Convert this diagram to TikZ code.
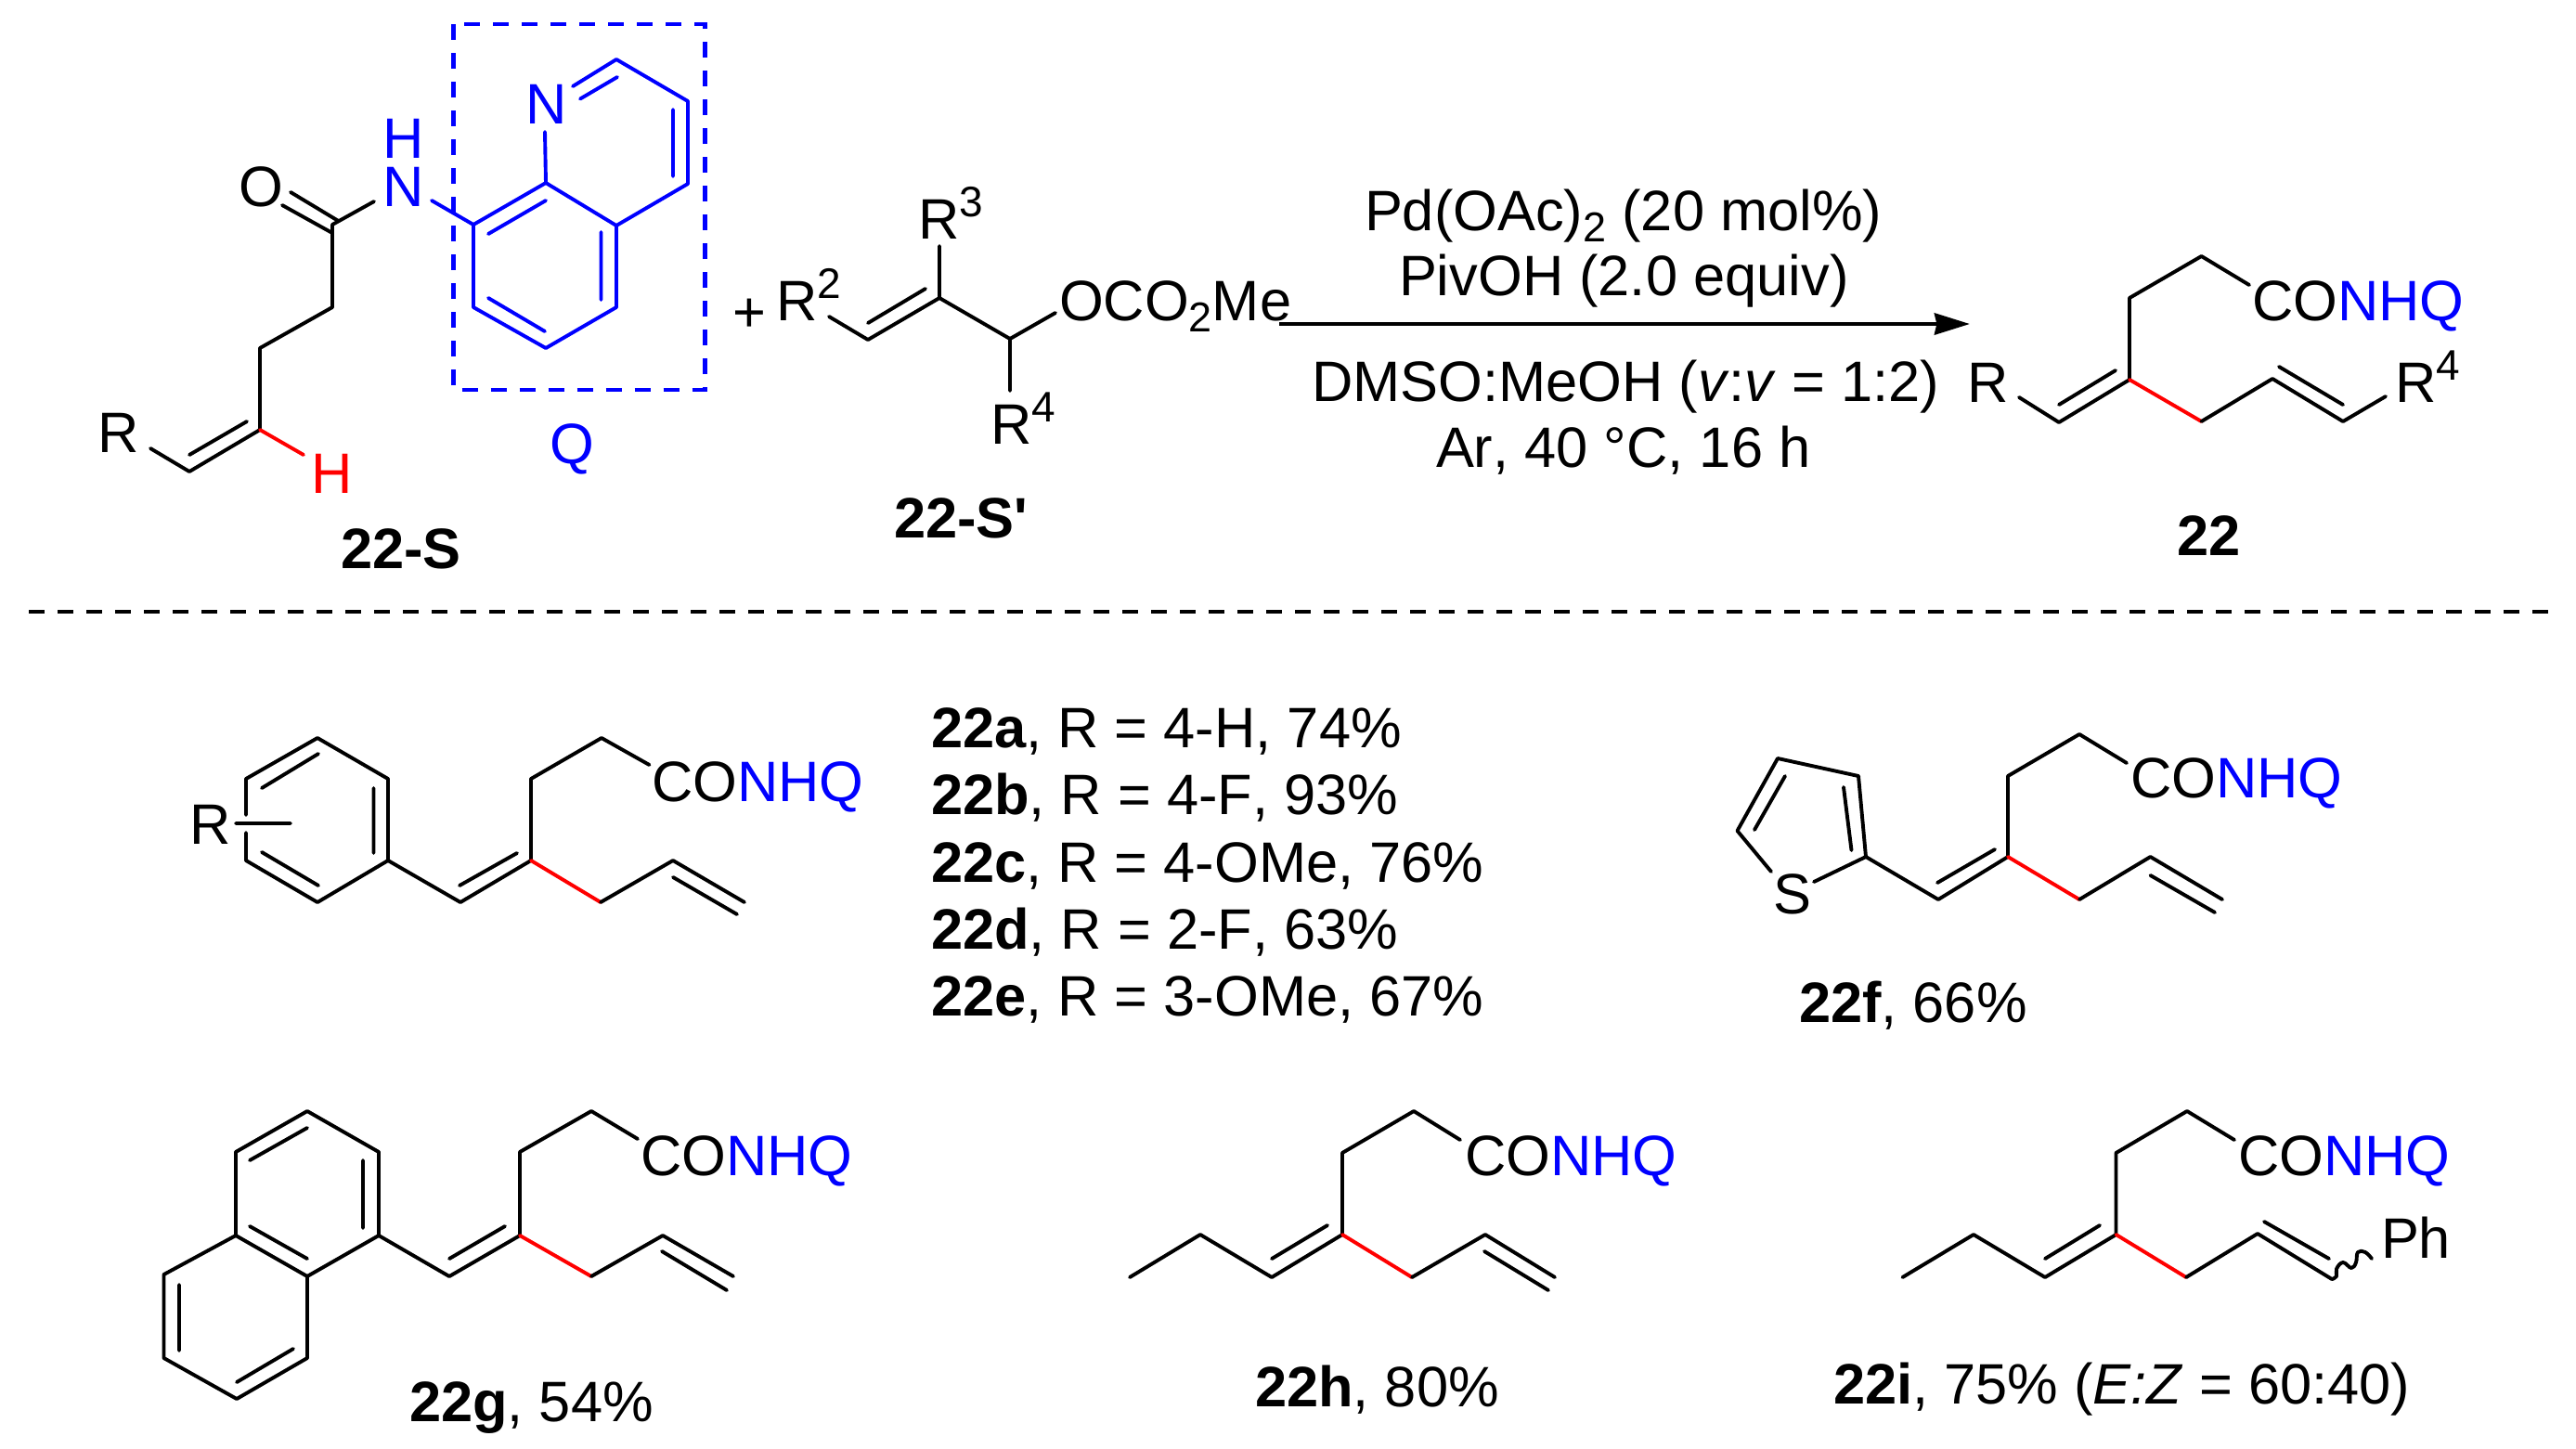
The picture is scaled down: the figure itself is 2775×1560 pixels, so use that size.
\documentclass[tikz,border=0pt]{standalone}
\usepackage{fontspec}
\setmainfont{Liberation Sans}[Ligatures=TeXOff,Kerning=Off]
\usetikzlibrary{arrows.meta}
\definecolor{qblue}{RGB}{0,0,255}
\definecolor{hred}{RGB}{255,0,0}
\newcommand\subtwo{\raisebox{-6.3pt}{\fontsize{22.5pt}{23pt}\selectfont 2}}
\newcommand\supr[1]{\raisebox{12pt}{\fontsize{23pt}{23pt}\selectfont #1}}
\newcommand\defpts[1]{\foreach \n/\x/\y in {#1}{\coordinate (\n) at (\x,\y);}}
\newcommand\conhq{CO\textcolor{qblue}{NHQ}}
\tikzset{
  bond/.style={line width=1.95pt,line join=round,line cap=round,black},
  qbond/.style={bond,qblue},
  rbond/.style={bond,hred},
  tx/.style={inner sep=0pt,outer sep=0pt,anchor=base west,font=\fontsize{30.7pt}{33pt}\selectfont},
  qdash/.style={line width=2.1pt,qblue,dash pattern=on 8.5pt off 7pt},
  sepdash/.style={line width=2.4pt,black,dash pattern=on 8.5pt off 7pt},
  rxn/.style={line width=2.3pt,-{Stealth[length=19pt,width=11.5pt,inset=1.2pt]}}
}
\begin{document}
\begin{tikzpicture}[x=0.5pt,y=-0.5pt]
\useasboundingbox (0,0) rectangle (2775,1560);
\fill[white] (0,0) rectangle (2775,1560);
% ---------- 22-S
\defpts{s1/162/483,s2/204/508,s3/280/463,s4/280/375,s5/358/331,s6/358/242,
 s2i/204/490,s3i/266/454,sH/327/490,so1a/313/207,so1b/364.5/238,so2a/304/221,so2b/358/251,sN/403/217,
 qN/465/216,c8/510/242,c8a/588/197,c4a/664/243,c5/664/331,c6/588/375,c7/510/331,
 nb/587/142,nc/617/93,c2/664/64,c3/741/109,c4/741/198,
 i2a/625/106.5,i2b/665/83,i3a/725/118,i3b/725/190,i8a/526/252,i8b/588/216,
 i4a/647.5/250,i4b/647.5/323,i6a/526/321,i6b/587/357,boxa/488.5/26,boxb/759.5/420}
\draw[qdash] (boxa) rectangle (boxb);
\draw[bond] (s1)--(s2)--(s3)--(s4)--(s5)--(s6)--(sN);
\draw[bond] (s2i)--(s3i) (so1a)--(so1b) (so2a)--(so2b);
\draw[rbond] (s3)--(sH);
\draw[qbond] (qN)--(c8)--(c8a)--(c4a)--(c5)--(c6)--(c7)--(c8);
\draw[qbond] (nb)--(c8a) (nc)--(c2)--(c3)--(c4)--(c4a);
\draw[qbond] (i2a)--(i2b) (i3a)--(i3b) (i8a)--(i8b) (i4a)--(i4b) (i6a)--(i6b);
\node[tx] (sR) at (105,487) {R};
\node[tx,hred] (sHt) at (335,531.5) {H};
\node[tx] (sO) at (257,222) {O};
\node[tx,qblue] (sNt) at (412,222) {\rlap{\raisebox{25.75pt}{H}}N};
\node[tx,qblue] (rN) at (566,133) {N};
\node[tx,qblue] (qQ) at (592,499) {Q};
\node[tx] (sLab) at (367,612) {\textbf{22-S}};
% ---------- plus
\node[tx,anchor=base] (plus) at (807,357) {+};
% ---------- 22-S'
\defpts{t1/893/341,t2/935/366,t3/1012/321,t2i/935/348,t3i/997/311,t4/1012/265,t5/1088/365,t6/1137/337,t7/1088/421}
\draw[bond] (t1)--(t2)--(t3)--(t5)--(t6) (t2i)--(t3i) (t3)--(t4) (t5)--(t7);
\node[tx] (tR2) at (836,345) {R\supr{2}};
\node[tx] (tR3) at (989,257) {R\supr{3}};
\node[tx] (tR4) at (1067,478) {R\supr{4}};
\node[tx] (tO) at (1141,345) {OCO\subtwo Me};
\node[tx] (tLab) at (963,579) {\textbf{22-S'}};
% ---------- arrow and conditions
\coordinate (arrA) at (1378,349);
\coordinate (arrB) at (2122,349);
\draw[rxn] (arrA)--(arrB);
\node[tx] (c1) at (1470,248) {Pd(OAc)\subtwo\ (20 mol\%)};
\node[tx] (c2t) at (1507,318) {PivOH (2.0 equiv)};
\node[tx] (c3t) at (1413,432) {DMSO:MeOH (\textit{v}:\textit{v} = 1:2)};
\node[tx] (c4t) at (1547,503) {Ar, 40 °C, 16 h};
% ---------- 22
\defpts{p1/2175/428,p2/2218/455,p3/2294/409,p2i/2218/436,p3i/2279/399,p4/2294/321,p5/2371.5/276,p6/2423/307,
 p7/2371.5/454,p8/2448/408,p9/2524/454,p8i/2455/395,p9i/2524/436,p10/2570/427}
\draw[bond] (p1)--(p2)--(p3)--(p4)--(p5)--(p6) (p2i)--(p3i);
\draw[rbond] (p3)--(p7);
\draw[bond] (p7)--(p8)--(p9)--(p10) (p8i)--(p9i);
\node[tx] (pR) at (2119,433) {R};
\node[tx] (pR4) at (2580,433) {R\supr{4}};
\node[tx] (pC) at (2426,345) {\conhq};
\node[tx] (pLab) at (2345,598) {\textbf{22}};
% ---------- separator
\coordinate (sepA) at (31,659);
\coordinate (sepB) at (2755,659);
\draw[sepdash] (sepA)--(sepB);
% ---------- 22a-e
\defpts{b1/342/795,b2/265/839,b2u/265/878,b2l/265/897,b3/265/927,b4/342/972,b5/418/927,b6/418/839,
 bi1/282/849,bi2/343/812,bi3/402.5/849,bi4/402.5/919,bi5/282/918,bi6/343/954,br1/254/887,br2/313/887,
 a1/496/972,a2/572/927,a1i/495/954,a2i/557/919,a3/572/839,a4/648/795,a5/699.5/824,a6/647/972,a7/725/927,a8/802/972,a7i/725/945,a8i/794/985}
\draw[bond] (b2u)--(b2)--(b1)--(b6)--(b5)--(b4)--(b3)--(b2l);
\draw[bond] (bi1)--(bi2) (bi3)--(bi4) (bi5)--(bi6) (br1)--(br2);
\draw[bond] (b5)--(a1)--(a2)--(a3)--(a4)--(a5) (a1i)--(a2i);
\draw[rbond] (a2)--(a6);
\draw[bond] (a6)--(a7)--(a8) (a7i)--(a8i);
\node[tx] (aR) at (204,909) {R};
\node[tx] (aC) at (702,863.5) {\conhq};
\node[tx] (l1) at (1003,805) {\textbf{22a}, R = 4-H, 74\%};
\node[tx] (l2) at (1003,877) {\textbf{22b}, R = 4-F, 93\%};
\node[tx] (l3) at (1003,950) {\textbf{22c}, R = 4-OMe, 76\%};
\node[tx] (l4) at (1003,1022) {\textbf{22d}, R = 2-F, 63\%};
\node[tx] (l5) at (1003,1094) {\textbf{22e}, R = 3-OMe, 67\%};
% ---------- 22f
\defpts{f1/2010/923,f2/2002/836,f3/1915/817,f4/1871.5/895,f5/1908/939,f6/1954/950,fi1/1986/848,fi2/1994.5/916,fi3/1923/836,fi4/1890/894,
 f7/2088/969,f8/2163/923,f7i/2087/951,f8i/2149/915,f9/2163/836,f10/2240/791,f11/2291/822,f12/2240/969,f13/2316.5/923,f14/2394/969,f13i/2316.5/943,f14i/2386/983}
\draw[bond] (f6)--(f1)--(f2)--(f3)--(f4)--(f5) (fi1)--(fi2) (fi3)--(fi4);
\draw[bond] (f1)--(f7)--(f8)--(f9)--(f10)--(f11) (f7i)--(f8i);
\draw[rbond] (f8)--(f12);
\draw[bond] (f12)--(f13)--(f14) (f13i)--(f14i);
\node[tx] (fS) at (1910,984) {S};
\node[tx] (fC) at (2295,859) {\conhq};
\node[tx] (fLab) at (1938,1101) {\textbf{22f}, 66\%};
% ---------- 22g
\defpts{n1/331/1197,n2/254/1241,n3/408/1241,n4/408/1331,n5/254/1331,n6/331/1375,n7/176.5/1373,n8/176.5/1463,n9/255/1507,n10/331/1463,
 ni1/269/1250,ni2/331/1215,ni3/391/1250,ni4/391/1323,ni5/269/1321,ni6/331/1356,ni7/193/1384,ni8/193/1455,ni9/255/1489,ni10/316/1453,
 g1/484/1375,g2/560/1331,g1i/484/1356,g2i/544/1321,g3/560/1241,g4/637/1197,g5/687/1227,g6/637/1375,g7/714/1331,g8/790/1375,g7i/713/1348,g8i/783/1390}
\draw[bond] (n1)--(n2)--(n5)--(n6)--(n4)--(n3)--(n1) (n5)--(n7)--(n8)--(n9)--(n10)--(n6);
\draw[bond] (ni1)--(ni2) (ni3)--(ni4) (ni5)--(ni6) (ni7)--(ni8) (ni9)--(ni10);
\draw[bond] (n4)--(g1)--(g2)--(g3)--(g4)--(g5) (g1i)--(g2i);
\draw[rbond] (g2)--(g6);
\draw[bond] (g6)--(g7)--(g8) (g7i)--(g8i);
\node[tx] (gC) at (690,1266) {\conhq};
\node[tx] (gLab) at (441,1531) {\textbf{22g}, 54\%};
% ---------- 22h
\defpts{h1/1217/1376,h2/1293/1330,h3/1370/1376,h4/1446/1330,h3i/1370/1356,h4i/1430/1320,h5/1446/1242,h6/1523/1197,h7/1573/1228,h8/1521/1376,h9/1600/1330,h10/1675/1376,h9i/1599/1348,h10i/1668/1390}
\draw[bond] (h1)--(h2)--(h3)--(h4)--(h5)--(h6)--(h7) (h3i)--(h4i);
\draw[rbond] (h4)--(h8);
\draw[bond] (h8)--(h9)--(h10) (h9i)--(h10i);
\node[tx] (hC) at (1578,1266) {\conhq};
\node[tx] (hLab) at (1352,1515) {\textbf{22h}, 80\%};
% ---------- 22i
\defpts{j1/2049.5/1376,j2/2126/1330,j3/2203/1376,j4/2279.5/1330,j3i/2203/1356,j4i/2262/1320,j5/2279.5/1242,j6/2356/1197,j7/2407/1228,j8/2355/1376,j9/2432/1329,j10/2512/1378,j9i/2439/1316,j10i/2509/1356}
\draw[bond] (j1)--(j2)--(j3)--(j4)--(j5)--(j6)--(j7) (j3i)--(j4i);
\draw[rbond] (j4)--(j8);
\draw[bond] (j8)--(j9)--(j10) (j9i)--(j10i);
\draw[bond] plot[smooth,tension=0.7] coordinates {(2512,1378) (2517,1375) (2517,1367) (2524,1360) (2533,1366) (2538,1360) (2540,1349) (2548,1349) (2555,1356)};
\node[tx] (jPh) at (2565,1355) {Ph};
\node[tx] (jC) at (2411,1266) {\conhq};
\node[tx] (jLab) at (1975,1512) {\textbf{22i}, 75\% (\textit{E:Z} = 60:40)};
\end{tikzpicture}
\end{document}
